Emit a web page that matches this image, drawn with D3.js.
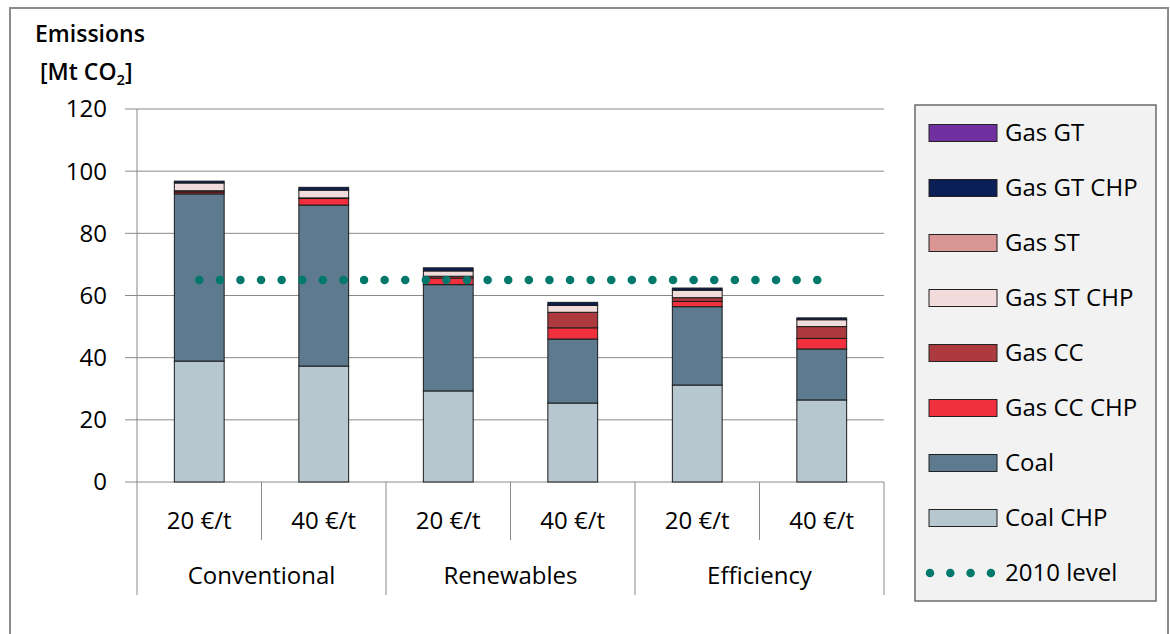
<!DOCTYPE html>
<html>
<head>
<meta charset="utf-8">
<script src="https://cdn.jsdelivr.net/npm/d3@7"></script>
<style>
  body { margin: 0; background: #fff; }
  text { font-family: "Open Sans", sans-serif; fill: #000; }
</style>
</head>
<body>
<div id="chart"></div>
<script>
// data
var scenarios = ["Conventional", "Renewables", "Efficiency"];
var prices = ["20 €/t", "40 €/t"];
var seriesNames = ["Coal CHP", "Coal", "Gas CC CHP", "Gas CC", "Gas ST CHP", "Gas ST", "Gas GT CHP", "Gas GT"];
var seriesColors = ["#b7c7d0", "#5d7a8f", "#f0303c", "#ad3a3f", "#f2dcdb", "#d99694", "#0a1f55", "#7030a0"];
// one value per bar: Conv 20, Conv 40, Ren 20, Ren 40, Eff 20, Eff 40
var coalChp  = [38.9, 37.3, 29.3, 25.4, 31.2, 26.4];
var coal     = [53.8, 51.8, 34.2, 20.6, 25.2, 16.4];
var gasCcChp = [0.6, 2.1, 2.1, 3.6, 1.7, 3.4];
var gasCc    = [0.4, 0.2, 0.6, 5.0, 1.2, 3.8];
var gasStChp = [2.5, 2.5, 1.7, 2.2, 2.4, 2.2];
var gasSt    = [0, 0, 0, 0, 0, 0];
var gasGtChp = [0.6, 0.9, 1.0, 1.0, 0.7, 0.6];
var gasGt    = [0, 0, 0, 0, 0, 0];
var level2010 = 65;
var yTicks = [0, 20, 40, 60, 80, 100, 120];
var legendOrder = ["Gas GT", "Gas GT CHP", "Gas ST", "Gas ST CHP", "Gas CC", "Gas CC CHP", "Coal", "Coal CHP"];

var W = 1170, H = 634;
var fs = "24px";
var svg = d3.select("#chart").append("svg").attr("width", W).attr("height", H);

// outer frame
svg.append("rect").attr("x", 10).attr("y", 8).attr("width", 1158).attr("height", 640)
  .attr("fill", "#fff").attr("stroke", "#8c8c8c").attr("stroke-width", 2);

var plot = {left: 137, right: 884, top: 109, bottom: 482};

var bars = [];
scenarios.forEach(function(s) {
  prices.forEach(function(p) { bars.push(s + "|" + p); });
});

var rows = bars.map(function(b, i) {
  return {key: b, "Coal CHP": coalChp[i], "Coal": coal[i], "Gas CC CHP": gasCcChp[i],
    "Gas CC": gasCc[i], "Gas ST CHP": gasStChp[i], "Gas ST": gasSt[i],
    "Gas GT CHP": gasGtChp[i], "Gas GT": gasGt[i]};
});

var x = d3.scaleBand().domain(bars).range([plot.left, plot.right]).paddingInner(0.6).paddingOuter(0.3);
var y = d3.scaleLinear().domain([0, 120]).range([plot.bottom, plot.top]);
var color = d3.scaleOrdinal().domain(seriesNames).range(seriesColors);

// gridlines + y labels
var yAxis = svg.append("g");
yAxis.selectAll("line.grid").data(yTicks).enter().append("line")
  .attr("class", "grid")
  .attr("x1", plot.left - 12).attr("x2", plot.right)
  .attr("y1", function(d) { return y(d); }).attr("y2", function(d) { return y(d); })
  .attr("stroke", "#8a8a8a").attr("stroke-width", 1);
yAxis.selectAll("text").data(yTicks).enter().append("text")
  .attr("x", 107).attr("y", function(d) { return y(d); })
  .attr("dy", "0.35em").attr("text-anchor", "end")
  .style("font-size", fs).text(function(d) { return d; });

// stacked bars
var stack = d3.stack().keys(seriesNames);
var layers = stack(rows);
svg.append("g").selectAll("g").data(layers).enter().append("g")
  .attr("fill", function(d) { return color(d.key); })
  .selectAll("rect").data(function(d) { return d.filter(function(v) { return v[1] - v[0] > 0; }); })
  .enter().append("rect")
  .attr("x", function(d) { return x(d.data.key); })
  .attr("width", x.bandwidth())
  .attr("y", function(d) { return y(d[1]); })
  .attr("height", function(d) { return y(d[0]) - y(d[1]); })
  .attr("stroke", "#1a1a1a").attr("stroke-width", 1);

// 2010 level dotted line
var step = x.step();
svg.append("line")
  .attr("x1", x(bars[0]) + x.bandwidth() / 2)
  .attr("x2", x(bars[bars.length - 1]) + x.bandwidth() / 2)
  .attr("y1", y(level2010)).attr("y2", y(level2010))
  .attr("stroke", "#00786c").attr("stroke-width", 8.5)
  .attr("stroke-linecap", "round").attr("stroke-dasharray", "0 20.6");

// y axis line
svg.append("line").attr("x1", plot.left).attr("x2", plot.left)
  .attr("y1", plot.top).attr("y2", 595).attr("stroke", "#8a8a8a");

// category axis
var catG = svg.append("g");
bars.forEach(function(b, i) {
  var x0 = plot.left + i * step;
  var x1 = x0 + step;
  if (i % 2 === 1) {
    catG.append("line").attr("x1", x0).attr("x2", x0).attr("y1", plot.bottom).attr("y2", 540)
      .attr("stroke", "#8a8a8a");
  } else if (i > 0) {
    catG.append("line").attr("x1", x0).attr("x2", x0).attr("y1", plot.bottom).attr("y2", 595)
      .attr("stroke", "#8a8a8a");
  }
  catG.append("text").attr("x", (x0 + x1) / 2).attr("y", 521).attr("dy", "0.35em")
    .attr("text-anchor", "middle").style("font-size", fs).text(b.split("|")[1]);
});
catG.append("line").attr("x1", plot.right).attr("x2", plot.right).attr("y1", plot.bottom).attr("y2", 595)
  .attr("stroke", "#8a8a8a");
scenarios.forEach(function(s, i) {
  catG.append("text").attr("x", plot.left + (i * 2 + 1) * step).attr("y", 576).attr("dy", "0.35em")
    .attr("text-anchor", "middle").style("font-size", fs).text(s);
});

// title
svg.append("text").attr("x", 35).attr("y", 42).style("font-size", "23px").style("font-weight", "600")
  .text("Emissions");
var t2 = svg.append("text").attr("x", 40).attr("y", 80).style("font-size", "23px").style("font-weight", "600");
t2.append("tspan").text("[Mt CO");
t2.append("tspan").attr("dy", 5).style("font-size", "15px").text("2");
t2.append("tspan").attr("dy", -5).text("]");

// legend
var leg = svg.append("g");
leg.append("rect").attr("x", 915).attr("y", 105).attr("width", 241).attr("height", 496)
  .attr("fill", "#f2f2f2").attr("stroke", "#6b6b6b").attr("stroke-width", 1.5);
legendOrder.forEach(function(name, i) {
  var cy = 133 + i * 55;
  leg.append("rect").attr("x", 929).attr("y", cy - 8.5).attr("width", 68).attr("height", 17)
    .attr("fill", color(name)).attr("stroke", "#222").attr("stroke-width", 1);
  leg.append("text").attr("x", 1005).attr("y", cy).attr("dy", "0.35em")
    .style("font-size", fs).text(name);
});
var dotsY = 133 + legendOrder.length * 55;
leg.append("line").attr("x1", 930).attr("x2", 992).attr("y1", dotsY).attr("y2", dotsY)
  .attr("stroke", "#00786c").attr("stroke-width", 8.5)
  .attr("stroke-linecap", "round").attr("stroke-dasharray", "0 20.3");
leg.append("text").attr("x", 1005).attr("y", dotsY).attr("dy", "0.35em")
  .style("font-size", fs).text("2010 level");
</script>
</body>
</html>
